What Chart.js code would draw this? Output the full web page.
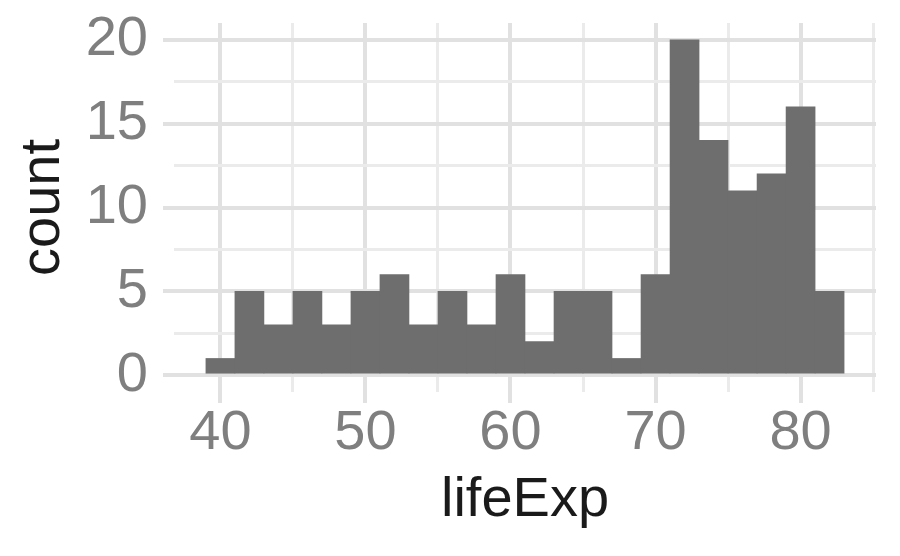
<!DOCTYPE html>
<html>
<head>
<meta charset="utf-8">
<script src="https://cdn.jsdelivr.net/npm/chart.js@4/dist/chart.umd.min.js"></script>
<style>
  body { margin: 0; background: #fff; }
  #wrap { width: 900px; height: 556px; }
</style>
</head>
<body>
<div id="wrap"><canvas id="hist"></canvas></div>
<script>
// histogram of lifeExp, binwidth 2
const binCenters = [40, 42, 44, 46, 48, 50, 52, 54, 56, 58, 60, 62, 64, 66, 68, 70, 72, 74, 76, 78, 80, 82];
const counts = [1, 5, 3, 5, 3, 5, 6, 3, 5, 3, 6, 2, 5, 5, 1, 6, 20, 14, 11, 12, 16, 5];
const xTicks = [40, 45, 50, 55, 60, 65, 70, 75, 80, 85];
const xLabels = [40, 50, 60, 70, 80];
const yTicks = [0, 2.5, 5, 7.5, 10, 12.5, 15, 17.5, 20];
const yLabels = [0, 5, 10, 15, 20];

var barColor = "#6e6e6e"
var majorColor = "#e1e1e1"
var minorColor = "#ebebeb"
var tickText = "#7f7f7f"
var titleText = "#1a1a1a"

function gridFor(labels) {
    const major = ctx => ctx.tick && labels.includes(ctx.tick.value);
    return {
        color: ctx => major(ctx) ? majorColor : minorColor,
        lineWidth: ctx => major(ctx) ? 4 : 3,
        tickColor: ctx => major(ctx) ? majorColor : "rgba(0,0,0,0)",
        tickWidth: 4,
        tickLength: 11,
        drawTicks: true,
        offset: false,
    };
}

const data = {
    datasets: [{
        data: binCenters.map((x, i) => ({x: x, y: counts[i]})),
        backgroundColor: barColor,
        borderWidth: 0,
        barPercentage: 1,
        categoryPercentage: 1,
    }]
};

const options = {
    animation: false,
    responsive: true,
    maintainAspectRatio: false,
    layout: {
        autoPadding: false,
        padding: {top: 23, right: 24, left: 0, bottom: 0},
    },
    scales: {
        x: {
            type: "linear",
            min: 36.8,
            max: 85.2,
            offset: false,
            afterBuildTicks: scale => { scale.ticks = xTicks.map(v => ({value: v})); },
            afterFit: scale => {
                scale.height = 164;
                scale.paddingLeft = 0;
                scale.paddingRight = 0;
            },
            grid: gridFor(xLabels),
            border: {display: false},
            ticks: {
                autoSkip: false,
                maxRotation: 0,
                padding: 3,
                color: tickText,
                font: {family: "Liberation Sans", size: 56, lineHeight: 1},
                callback: v => xLabels.includes(v) ? String(v) : "",
            },
            title: {
                display: true,
                text: "lifeExp",
                color: titleText,
                font: {family: "Liberation Sans", size: 56, lineHeight: 1.2},
                padding: {top: 0, bottom: 22},
            },
        },
        y: {
            type: "linear",
            min: -1,
            max: 21,
            afterBuildTicks: scale => { scale.ticks = yTicks.map(v => ({value: v})); },
            afterFit: scale => {
                scale.width = 174;
                scale.paddingTop = 0;
                scale.paddingBottom = 0;
            },
            grid: gridFor(yLabels),
            border: {display: false},
            ticks: {
                autoSkip: false,
                padding: 15,
                color: tickText,
                font: {family: "Liberation Sans", size: 56, lineHeight: 1},
                callback: v => yLabels.includes(v) ? String(v) : "",
            },
            title: {
                display: true,
                text: "count",
                color: titleText,
                font: {family: "Liberation Sans", size: 56, lineHeight: 1.2},
                padding: {top: 10, bottom: 0},
            },
        },
    },
    plugins: {
        legend: {display: false},
        tooltip: {enabled: false},
    },
};

const chartHist = new Chart(
    document.getElementById("hist"),
    {type: "bar", data: data, options: options}
);
</script>
</body>
</html>
